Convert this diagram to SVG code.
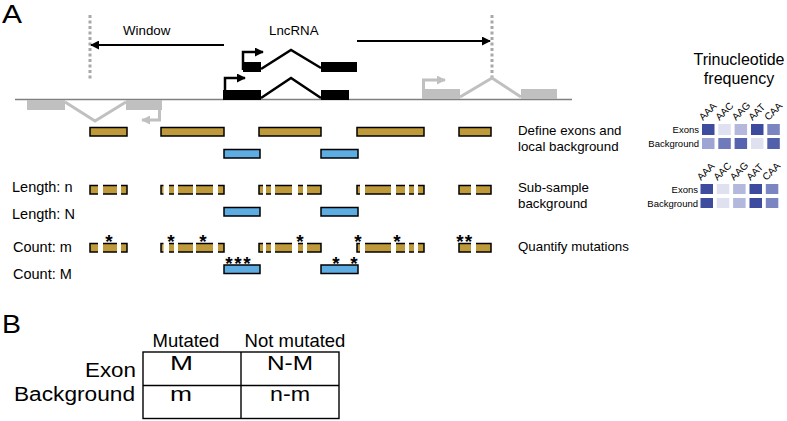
<svg xmlns="http://www.w3.org/2000/svg" xmlns:xlink="http://www.w3.org/1999/xlink" width="787" height="421" viewBox="0 0 787 421">
<style>
.t{font-family:"Liberation Sans",Arial,sans-serif;fill:#000}
.gold{fill:#bf9a3a;stroke:#000;stroke-width:1.5}
.blue{fill:#5dade2;stroke:#000;stroke-width:1.5}
.gap{fill:#fff}
.star{font-family:"Liberation Sans",Arial,sans-serif;font-size:19px;font-weight:bold;text-anchor:middle;fill:#000}
.ge{fill:#c0c0c0}
.gl{fill:none;stroke:#c0c0c0;stroke-width:3}
.be{fill:#000}
.bl{fill:none;stroke:#000;stroke-width:2.5}
.dot{stroke:#a8a8a8;stroke-width:3;stroke-dasharray:3 2.5}
.lab{font-family:"Liberation Sans",Arial,sans-serif;font-size:14.5px;fill:#000}
.rl{font-family:"Liberation Sans",Arial,sans-serif;font-size:13.3px;fill:#000}
.hm{font-family:"Liberation Sans",Arial,sans-serif;font-size:10px;fill:#000}
.hr{font-family:"Liberation Sans",Arial,sans-serif;font-size:9.5px;fill:#000;text-anchor:end}
.cell{stroke:none}
.tb{fill:none;stroke:#000;stroke-width:1.4}
</style>
<defs>
<marker id="ab" viewBox="0 0 10 10" refX="9" refY="5" markerWidth="9" markerHeight="9" markerUnits="userSpaceOnUse" orient="auto"><path d="M0,0 L10,5 L0,10 z" fill="#000"/></marker>
<marker id="as" viewBox="0 0 10 10" refX="9" refY="5" markerWidth="9" markerHeight="9" markerUnits="userSpaceOnUse" orient="auto"><path d="M0,0 L10,5 L0,10 z" fill="#000"/></marker>
<marker id="ag" viewBox="0 0 10 10" refX="9" refY="5" markerWidth="9" markerHeight="9" markerUnits="userSpaceOnUse" orient="auto"><path d="M0,0 L10,5 L0,10 z" fill="#c0c0c0"/></marker>
<g id="gapset">
<rect class="gap" x="98" y="-2.5" width="5" height="13.5"/>
<rect class="gap" x="117" y="-2.5" width="4" height="13.5"/>
<rect class="gap" x="163.5" y="-2.5" width="5.5" height="13.5"/>
<rect class="gap" x="174" y="-2.5" width="4" height="13.5"/>
<rect class="gap" x="193" y="-2.5" width="3" height="13.5"/>
<rect class="gap" x="213" y="-2.5" width="5" height="13.5"/>
<rect class="gap" x="263" y="-2.5" width="3" height="13.5"/>
<rect class="gap" x="271" y="-2.5" width="4" height="13.5"/>
<rect class="gap" x="292" y="-2.5" width="6" height="13.5"/>
<rect class="gap" x="303" y="-2.5" width="4" height="13.5"/>
<rect class="gap" x="360" y="-2.5" width="5" height="13.5"/>
<rect class="gap" x="391" y="-2.5" width="5" height="13.5"/>
<rect class="gap" x="405" y="-2.5" width="4" height="13.5"/>
<rect class="gap" x="414" y="-2.5" width="4" height="13.5"/>
<rect class="gap" x="471" y="-2.5" width="5" height="13.5"/>
</g>
<g id="goldrow">
<rect class="gold" x="90" y="0" width="37" height="8.5"/>
<rect class="gold" x="161" y="0" width="63" height="8.5"/>
<rect class="gold" x="259" y="0" width="62" height="8.5"/>
<rect class="gold" x="357" y="0" width="67" height="8.5"/>
<rect class="gold" x="459" y="0" width="32" height="8.5"/>
</g>
<g id="bluerow">
<rect class="blue" x="224" y="0" width="36" height="8.5"/>
<rect class="blue" x="321" y="0" width="37" height="8.5"/>
</g>
</defs>
<rect width="787" height="421" fill="#fff"/>

<g id="panel-labels">
<text class="t" x="2" y="23" font-size="25" textLength="20" lengthAdjust="spacingAndGlyphs">A</text>
<text class="t" x="2" y="333" font-size="25" textLength="19" lengthAdjust="spacingAndGlyphs">B</text>
</g>

<g id="connectors">
<line class="dot" x1="90" y1="15" x2="90" y2="81"/>
<line class="dot" x1="492" y1="15" x2="492" y2="77"/>
<line x1="224" y1="45" x2="91" y2="45" stroke="#000" stroke-width="2" marker-end="url(#ab)"/>
<line x1="357" y1="41" x2="490" y2="41" stroke="#000" stroke-width="2" marker-end="url(#ab)"/>
</g>

<g id="labels-top">
<text class="t" x="123" y="35" font-size="13.3">Window</text>
<text class="t" x="269" y="35" font-size="13.3">LncRNA</text>
</g>

<g id="chromosome">
<line x1="15" y1="99.5" x2="572" y2="99.5" stroke="#808080" stroke-width="1.5"/>
</g>

<g id="gene-left">
<rect class="ge" x="27" y="100" width="38" height="10"/>
<polyline class="gl" points="65,102 95,121 126,102"/>
<rect class="ge" x="126" y="100" width="36" height="10"/>
<path class="gl" d="M159.5,110 V120 H142" marker-end="url(#ag)"/>
</g>

<g id="lncrna">
<path class="bl" d="M243,70 V52 H263" marker-end="url(#as)"/>
<rect class="be" x="243" y="62" width="18" height="10"/>
<polyline class="bl" points="261,69 291,50 321,68"/>
<rect class="be" x="321" y="62" width="36" height="10"/>
<path class="bl" d="M225,99 V78 H245" marker-end="url(#as)"/>
<rect class="be" x="223" y="90" width="38" height="10"/>
<polyline class="bl" points="261,98 291,78 321,98"/>
<rect class="be" x="321" y="90" width="28" height="10"/>
</g>

<g id="gene-right">
<path class="gl" d="M423.5,99 V80 H445" marker-end="url(#ag)"/>
<rect class="ge" x="422" y="89" width="38" height="10"/>
<polyline class="gl" points="460,97 492,78 521,97"/>
<rect class="ge" x="521" y="89" width="36" height="10"/>
</g>

<g id="row-define">
<use xlink:href="#goldrow" href="#goldrow" y="127.5"/>
<use xlink:href="#bluerow" href="#bluerow" y="149.5"/>
</g>

<g id="row-subsample">
<use xlink:href="#goldrow" href="#goldrow" y="185.5"/>
<use xlink:href="#gapset" href="#gapset" y="185.5"/>
<use xlink:href="#bluerow" href="#bluerow" y="207.5"/>
</g>

<g id="row-quantify">
<use xlink:href="#goldrow" href="#goldrow" y="243.5"/>
<use xlink:href="#gapset" href="#gapset" y="243.5"/>
<use xlink:href="#bluerow" href="#bluerow" y="265"/>
<text class="star" x="109" y="247.5">*</text>
<text class="star" x="171" y="247.5">*</text>
<text class="star" x="203" y="247.5">*</text>
<text class="star" x="300" y="247.5">*</text>
<text class="star" x="358" y="247.5">*</text>
<text class="star" x="397" y="247.5">*</text>
<text class="star" x="460" y="247.5">*</text>
<text class="star" x="468.5" y="247.5">*</text>
<text class="star" x="229" y="269.8">*</text>
<text class="star" x="238" y="269.8">*</text>
<text class="star" x="247" y="269.8">*</text>
<text class="star" x="336" y="269.8">*</text>
<text class="star" x="354" y="269.8">*</text>
</g>

<g id="left-labels">
<text class="lab" x="12" y="192">Length: n</text>
<text class="lab" x="12" y="219">Length: N</text>
<text class="lab" x="13" y="252">Count: m</text>
<text class="lab" x="13" y="279">Count: M</text>
</g>

<g id="right-labels">
<text class="rl" x="518" y="135">Define exons and</text>
<text class="rl" x="518" y="151">local background</text>
<text class="rl" x="518" y="192">Sub-sample</text>
<text class="rl" x="518" y="208">background</text>
<text class="rl" x="518" y="251">Quantify mutations</text>
</g>

<g id="heatmap-title">
<text class="t" x="739" y="65" font-size="16" text-anchor="middle">Trinucleotide</text>
<text class="t" x="739" y="84" font-size="16" text-anchor="middle">frequency</text>
</g>

<g id="heatmap-1">
<text class="hm" transform="translate(703,121) rotate(-45)">AAA</text>
<text class="hm" transform="translate(719.5,121) rotate(-45)">AAC</text>
<text class="hm" transform="translate(736,121) rotate(-45)">AAG</text>
<text class="hm" transform="translate(752.5,121) rotate(-45)">AAT</text>
<text class="hm" transform="translate(768.5,121) rotate(-45)">CAA</text>
<text class="hr" x="699" y="133">Exons</text>
<text class="hr" x="699" y="147">Background</text>
<rect class="cell" x="702" y="124" width="12.5" height="11" fill="#3f4c9e"/>
<rect class="cell" x="718.3" y="124" width="12.5" height="11" fill="#dfe1f1"/>
<rect class="cell" x="734.6" y="124" width="12.5" height="11" fill="#b3b8dc"/>
<rect class="cell" x="751" y="124" width="12.5" height="11" fill="#3d4b9f"/>
<rect class="cell" x="767.3" y="124" width="12.5" height="11" fill="#7b85c2"/>
<rect class="cell" x="702" y="138" width="12.5" height="11" fill="#9ea5d4"/>
<rect class="cell" x="718.3" y="138" width="12.5" height="11" fill="#6f7abb"/>
<rect class="cell" x="734.6" y="138" width="12.5" height="11" fill="#5663ae"/>
<rect class="cell" x="751" y="138" width="12.5" height="11" fill="#dfe1f1"/>
<rect class="cell" x="767.3" y="138" width="12.5" height="11" fill="#5260ab"/>
</g>

<g id="heatmap-2">
<text class="hm" transform="translate(701,181) rotate(-45)">AAA</text>
<text class="hm" transform="translate(717.5,181) rotate(-45)">AAC</text>
<text class="hm" transform="translate(734,181) rotate(-45)">AAG</text>
<text class="hm" transform="translate(750.5,181) rotate(-45)">AAT</text>
<text class="hm" transform="translate(766.5,181) rotate(-45)">CAA</text>
<text class="hr" x="698" y="193">Exons</text>
<text class="hr" x="698" y="206.5">Background</text>
<rect class="cell" x="700.5" y="184" width="12.5" height="10" fill="#3f4c9e"/>
<rect class="cell" x="716.8" y="184" width="12.5" height="10" fill="#dfe1f1"/>
<rect class="cell" x="733.1" y="184" width="12.5" height="10" fill="#b3b8dc"/>
<rect class="cell" x="749.5" y="184" width="12.5" height="10" fill="#3d4b9f"/>
<rect class="cell" x="765.8" y="184" width="12.5" height="10" fill="#7b85c2"/>
<rect class="cell" x="700.5" y="198" width="12.5" height="10" fill="#3f4c9e"/>
<rect class="cell" x="716.8" y="198" width="12.5" height="10" fill="#dfe1f1"/>
<rect class="cell" x="733.1" y="198" width="12.5" height="10" fill="#b3b8dc"/>
<rect class="cell" x="749.5" y="198" width="12.5" height="10" fill="#3d4b9f"/>
<rect class="cell" x="765.8" y="198" width="12.5" height="10" fill="#7b85c2"/>
</g>

<g id="table">
<rect class="tb" x="143" y="352" width="196" height="66.5"/>
<line class="tb" x1="143" y1="385.5" x2="339" y2="385.5"/>
<line class="tb" x1="241" y1="352" x2="241" y2="418.5"/>
<text class="t" x="186" y="347" font-size="18.5" text-anchor="middle">Mutated</text>
<text class="t" x="295" y="347" font-size="18.5" text-anchor="middle">Not mutated</text>
<text class="t" x="85" y="377" font-size="20" textLength="51" lengthAdjust="spacingAndGlyphs">Exon</text>
<text class="t" x="14" y="401" font-size="20" textLength="121" lengthAdjust="spacingAndGlyphs">Background</text>
<text class="t" x="170" y="370" font-size="21" textLength="23" lengthAdjust="spacingAndGlyphs">M</text>
<text class="t" x="267" y="370" font-size="21" textLength="46" lengthAdjust="spacingAndGlyphs">N-M</text>
<text class="t" x="170" y="401" font-size="21" textLength="22" lengthAdjust="spacingAndGlyphs">m</text>
<text class="t" x="270" y="401" font-size="21" textLength="40" lengthAdjust="spacingAndGlyphs">n-m</text>
</g>
</svg>
